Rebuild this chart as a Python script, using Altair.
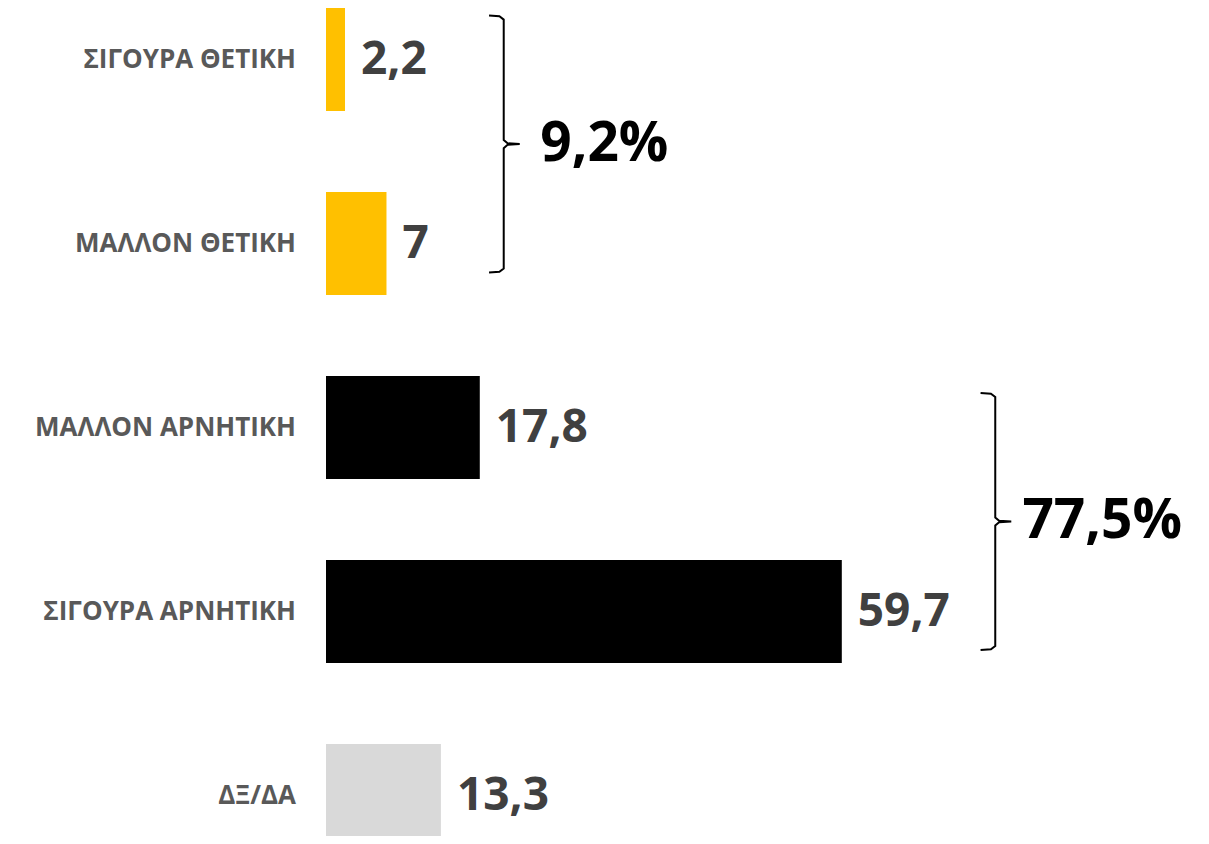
import altair as alt
import pandas as pd

# ---- data ----
categories = ["ΣΙΓΟΥΡΑ ΘΕΤΙΚΗ", "ΜΑΛΛΟΝ ΘΕΤΙΚΗ", "ΜΑΛΛΟΝ ΑΡΝΗΤΙΚΗ", "ΣΙΓΟΥΡΑ ΑΡΝΗΤΙΚΗ", "ΔΞ/ΔΑ"]
values = [2.2, 7, 17.8, 59.7, 13.3]
value_labels = ["2,2", "7", "17,8", "59,7", "13,3"]
colors = ["#FFC000", "#FFC000", "#000000", "#000000", "#D9D9D9"]

group_labels = ["9,2%", "77,5%"]
group_first = [0, 2]      # index of first category in group
group_last = [1, 3]       # index of last category in group
bracket_spine_x = [20.57, 77.46]   # bracket position in value units
group_label_x = [24.8, 80.6]

# ---- layout constants (bracket extents, in category steps) ----
BAR_HALF = 0.28
top_ext = [0.239, 0.1875]
bot_ext = [0.158, 0.209]

bars = pd.DataFrame({
    "cat": categories,
    "pos": list(range(len(categories))),
    "value": values,
    "label": value_labels,
    "color": colors,
})

# bracket path points
rows = []
mids = []
for g in range(len(group_labels)):
    xs = bracket_spine_x[g]
    yt = group_first[g] - top_ext[g]
    yb = group_last[g] + bot_ext[g]
    ym = (yt + yb) / 2
    mids.append(ym)
    pts = [
        (xs - 1.7, yt), (xs - 0.5, yt + 0.004), (xs, yt + 0.022),
        (xs, ym - 0.022), (xs + 0.45, ym - 0.004), (xs + 1.85, ym),
        (xs + 0.45, ym + 0.004), (xs, ym + 0.022),
        (xs, yb - 0.022), (xs - 0.5, yb - 0.004), (xs - 1.7, yb),
    ]
    for i, (px, py) in enumerate(pts):
        rows.append({"g": g, "seq": i, "bx": px, "by": py})
brackets = pd.DataFrame(rows)

groups = pd.DataFrame({
    "label": group_labels,
    "gx": group_label_x,
    "gy": mids,
})

xscale = alt.Scale(domain=[0, 100], nice=False, zero=True)
yscale = alt.Scale(domain=[-0.28, 4.22], reverse=True, nice=False, zero=False)

base = alt.Chart(bars).transform_calculate(
    lo=f"datum.pos - {BAR_HALF}", hi=f"datum.pos + {BAR_HALF}", zero="0"
)

bar_layer = base.mark_bar(clip=True).encode(
    x=alt.X("value:Q", scale=xscale, axis=None),
    x2="zero:Q",
    y=alt.Y("lo:Q", scale=yscale, axis=None),
    y2="hi:Q",
    color=alt.Color("color:N", scale=None, legend=None),
)

value_text = base.mark_text(
    align="left", baseline="middle", dx=16, font="Open Sans", fontWeight="bold",
    fontSize=46, color="#404040"
).encode(
    x=alt.X("value:Q", scale=xscale, axis=None),
    y=alt.Y("pos:Q", scale=yscale, axis=None),
    text="label:N",
)

cat_text = base.mark_text(
    align="right", baseline="middle", dx=-30, font="Open Sans", fontWeight="bold",
    fontSize=26, color="#595959"
).encode(
    x=alt.X("zero:Q", scale=xscale, axis=None),
    y=alt.Y("pos:Q", scale=yscale, axis=None),
    text="cat:N",
)

bracket_layer = alt.Chart(brackets).mark_line(color="#000000", strokeWidth=2).encode(
    x=alt.X("bx:Q", scale=xscale, axis=None),
    y=alt.Y("by:Q", scale=yscale, axis=None),
    detail="g:N",
    order="seq:Q",
)

group_text = alt.Chart(groups).mark_text(
    align="left", baseline="middle", font="Open Sans", fontWeight="bold",
    fontSize=55, color="#000000"
).encode(
    x=alt.X("gx:Q", scale=xscale, axis=None),
    y=alt.Y("gy:Q", scale=yscale, axis=None),
    text="label:N",
)

chart = alt.layer(bar_layer, value_text, cat_text, bracket_layer, group_text).properties(
    width=864, height=828,
    autosize=alt.AutoSizeParams(type="none"),
    padding={"left": 318, "top": 0, "right": 11, "bottom": 0},
).configure_view(stroke=None)

chart.save("out.html", embed_options={"renderer": "svg", "actions": False})
